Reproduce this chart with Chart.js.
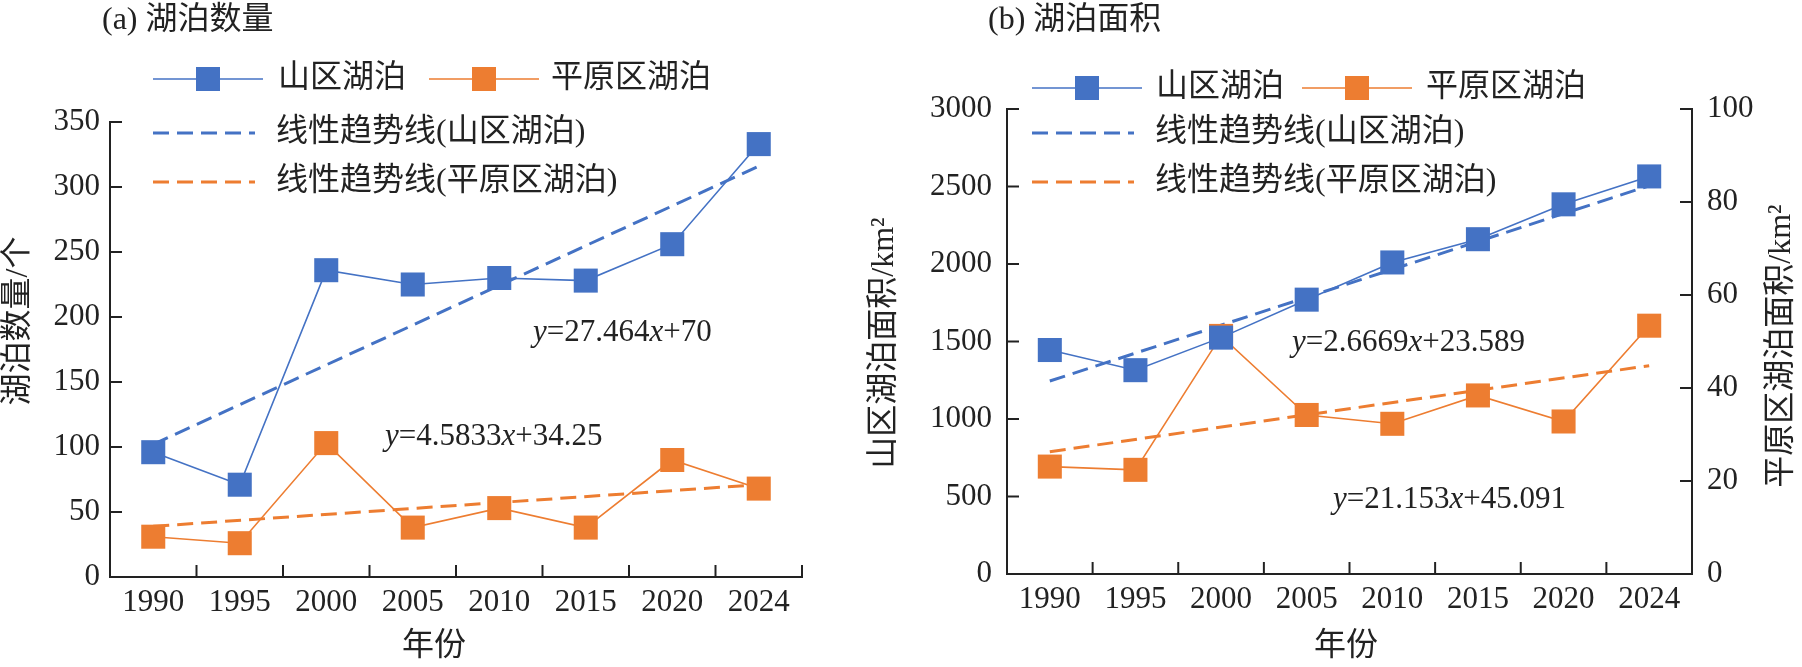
<!DOCTYPE html>
<html>
<head>
<meta charset="utf-8">
<script src="https://cdn.jsdelivr.net/npm/chart.js@4/dist/chart.umd.min.js"></script>
<style>
html, body { margin: 0; padding: 0; background: #fff; }
#wrap { position: relative; width: 1802px; height: 667px; overflow: hidden; }
.box { position: absolute; top: 0; height: 667px; }
#boxA { left: 0; width: 850px; }
#boxB { left: 850px; width: 952px; }
</style>
</head>
<body>
<div id="wrap">
  <div class="box" id="boxA"><canvas id="chartA"></canvas></div>
  <div class="box" id="boxB"><canvas id="chartB"></canvas></div>
</div>
<script>
// ==============================
// DATOS
// ==============================
const years = ["1990", "1995", "2000", "2005", "2010", "2015", "2020", "2024"];

// (a) 湖泊数量 (个)
const countMountain = [96, 71, 236, 225, 230, 228, 256, 333];
const countPlain = [31, 26, 103, 38, 53, 38, 90, 68];
// trend lines: only the two ends
const countMountainTrend = [102, null, null, null, null, null, null, 316];
const countPlainTrend = [39, null, null, null, null, null, null, 71];

// (b) 湖泊面积 (km²)
const areaMountain = [1445, 1315, 1525, 1770, 2010, 2160, 2385, 2565];
const areaPlain = [23.1, 22.4, 51.2, 34.2, 32.3, 38.4, 32.8, 53.4];
const areaMountainTrend = [1245, null, null, null, null, null, null, 2505];
const areaPlainTrend = [26.3, null, null, null, null, null, null, 44.8];

const seriesNames = ["山区湖泊", "平原区湖泊", "线性趋势线(山区湖泊)", "线性趋势线(平原区湖泊)"];

const BLUE = "#4472C4";
const ORANGE = "#ED7D31";
const INK = "#222";
const FONT = '"Times New Roman", "Liberation Serif", "DejaVu Serif", serif, "Noto Sans CJK SC"';

// ==============================
// PLUGIN: ticks hacia dentro, leyenda, textos
// ==============================
function drawParts(ctx, parts, x, y, size) {
    let cx = x;
    parts.forEach(([t, it]) => {
        ctx.font = (it ? "italic " : "") + size + "px " + FONT;
        ctx.fillText(t, cx, y);
        cx += ctx.measureText(t).width;
    });
}

const decor = {
    id: "decor",
    afterDraw(chart, args, opts) {
        const ctx = chart.ctx;
        const area = chart.chartArea;
        ctx.save();
        ctx.strokeStyle = INK;
        ctx.lineWidth = 2;
        // inward tick marks
        (opts.yTicks || []).forEach(({ id, dir }) => {
            const s = chart.scales[id];
            const x0 = dir > 0 ? area.left : area.right;
            s.ticks.forEach((t, i) => {
                const y = s.getPixelForTick(i);
                ctx.beginPath();
                ctx.moveTo(x0, y);
                ctx.lineTo(x0 + dir * 12, y);
                ctx.stroke();
            });
        });
        const xs = chart.scales.x;
        for (let k = 1; k <= years.length; k++) {
            const x = xs.getPixelForValue(k - 0.5);
            ctx.beginPath();
            ctx.moveTo(x, area.bottom);
            ctx.lineTo(x, area.bottom - 12);
            ctx.stroke();
        }

        // legend
        ctx.fillStyle = INK;
        ctx.textBaseline = "middle";
        ctx.textAlign = "left";
        (opts.legend || []).forEach(item => {
            const ds = chart.data.datasets[item.ds];
            ctx.save();
            ctx.strokeStyle = ds.borderColor;
            ctx.lineWidth = ds.borderWidth;
            ctx.setLineDash(ds.borderDash || []);
            ctx.beginPath();
            ctx.moveTo(item.x, item.y);
            ctx.lineTo(item.x + item.w, item.y);
            ctx.stroke();
            ctx.restore();
            if (ds.pointRadius > 0) {
                Chart.helpers.drawPoint(ctx, {
                    pointStyle: "rect", radius: ds.pointRadius, borderWidth: 0, rotation: 0
                }, item.x + item.w / 2, item.y);
                ctx.fillStyle = ds.pointBackgroundColor;
                ctx.fill();
            }
            ctx.fillStyle = INK;
            ctx.font = "32px " + FONT;
            ctx.fillText(ds.label, item.tx, item.y);
        });

        // free texts
        (opts.texts || []).forEach(t => {
            ctx.save();
            ctx.fillStyle = INK;
            ctx.textBaseline = "middle";
            ctx.font = t.size + "px " + FONT;
            if (t.rotate) {
                ctx.translate(t.x, t.y);
                ctx.rotate(-Math.PI / 2);
                ctx.textAlign = "center";
                ctx.fillText(t.text, 0, 0);
            } else if (t.align === "center") {
                ctx.textAlign = "center";
                ctx.fillText(t.text, t.x, t.y);
            } else if (t.parts) {
                ctx.textAlign = "left";
                drawParts(ctx, t.parts, t.x, t.y, t.size);
            } else {
                ctx.textAlign = "left";
                ctx.fillText(t.text, t.x, t.y);
            }
            ctx.restore();
        });
        ctx.restore();
    }
};

// ==============================
// CONFIG COMÚN
// ==============================
function seriesSet(label, data, color, axis) {
    return {
        label: label, data: data, yAxisID: axis,
        borderColor: color, borderWidth: 1.6,
        pointStyle: "rect", pointRadius: 17, pointHoverRadius: 17,
        pointBackgroundColor: color, pointBorderColor: color, pointBorderWidth: 0,
        tension: 0, fill: false
    };
}

function trendSet(label, data, color, axis) {
    return {
        label: label, data: data, yAxisID: axis,
        borderColor: color, borderWidth: 3, borderDash: [16, 8],
        pointRadius: 0, pointHoverRadius: 0, spanGaps: true, fill: false
    };
}

function valueAxis(pos, max, step, width, pad) {
    return {
        type: "linear", position: pos, min: 0, max: max,
        grid: { display: false, drawTicks: false },
        border: { display: true, color: INK, width: 2 },
        ticks: {
            stepSize: step, padding: pad, color: INK,
            font: { family: FONT, size: 31 },
            callback: v => String(v)
        },
        afterFit: s => { s.width = width; }
    };
}

function catAxis(height) {
    return {
        type: "category", offset: true,
        grid: { display: false, drawTicks: false },
        border: { display: true, color: INK, width: 2 },
        ticks: { padding: 7, color: INK, font: { family: FONT, size: 31 }, maxRotation: 0, autoSkip: false },
        afterFit: s => { s.height = height; }
    };
}

Chart.defaults.animation = false;
Chart.defaults.font.family = FONT;

// ==============================
// (a) 湖泊数量
// ==============================
new Chart(document.getElementById("chartA"), {
    type: "line",
    data: {
        labels: years,
        datasets: [
            seriesSet(seriesNames[0], countMountain, BLUE, "y"),
            seriesSet(seriesNames[1], countPlain, ORANGE, "y"),
            trendSet(seriesNames[2], countMountainTrend, BLUE, "y"),
            trendSet(seriesNames[3], countPlainTrend, ORANGE, "y")
        ]
    },
    options: {
        responsive: true, maintainAspectRatio: false,
        layout: { padding: { top: 122, right: 48, left: 0, bottom: 0 } },
        scales: {
            x: catAxis(90),
            y: valueAxis("left", 350, 50, 110, 10)
        },
        plugins: {
            legend: { display: false }, tooltip: { enabled: false },
            decor: {
                yTicks: [{ id: "y", dir: 1 }],
                legend: [
                    { ds: 0, x: 153, y: 79, w: 110, tx: 278 },
                    { ds: 1, x: 429, y: 79, w: 110, tx: 551 },
                    { ds: 2, x: 153, y: 133, w: 102, tx: 276 },
                    { ds: 3, x: 153, y: 182, w: 102, tx: 276 }
                ],
                texts: [
                    { text: "(a) 湖泊数量", x: 102, y: 21, size: 32 },
                    { text: "湖泊数量/个", x: 19, y: 321, size: 32, rotate: true },
                    { text: "年份", x: 434, y: 647, size: 32, align: "center" },
                    { parts: [["y", true], ["=27.464", false], ["x", true], ["+70", false]], x: 533, y: 333, size: 31 },
                    { parts: [["y", true], ["=4.5833", false], ["x", true], ["+34.25", false]], x: 385, y: 437, size: 31 }
                ]
            }
        }
    },
    plugins: [decor]
});

// ==============================
// (b) 湖泊面积
// ==============================
new Chart(document.getElementById("chartB"), {
    type: "line",
    data: {
        labels: years,
        datasets: [
            seriesSet(seriesNames[0], areaMountain, BLUE, "y"),
            seriesSet(seriesNames[1], areaPlain, ORANGE, "y1"),
            trendSet(seriesNames[2], areaMountainTrend, BLUE, "y"),
            trendSet(seriesNames[3], areaPlainTrend, ORANGE, "y1")
        ]
    },
    options: {
        responsive: true, maintainAspectRatio: false,
        layout: { padding: { top: 109, right: 0, left: 0, bottom: 0 } },
        scales: {
            x: catAxis(93),
            y: valueAxis("left", 3000, 500, 157, 15),
            y1: valueAxis("right", 100, 20, 110, 15)
        },
        plugins: {
            legend: { display: false }, tooltip: { enabled: false },
            decor: {
                yTicks: [{ id: "y", dir: 1 }, { id: "y1", dir: -1 }],
                legend: [
                    { ds: 0, x: 182, y: 88, w: 110, tx: 306 },
                    { ds: 1, x: 452, y: 88, w: 110, tx: 576 },
                    { ds: 2, x: 182, y: 133, w: 102, tx: 305 },
                    { ds: 3, x: 182, y: 182, w: 102, tx: 305 }
                ],
                texts: [
                    { text: "(b) 湖泊面积", x: 138, y: 21, size: 32 },
                    { text: "山区湖泊面积/km²", x: 35, y: 343, size: 32, rotate: true },
                    { text: "平原区湖泊面积/km²", x: 932, y: 346, size: 32, rotate: true },
                    { text: "年份", x: 496, y: 647, size: 32, align: "center" },
                    { parts: [["y", true], ["=2.6669", false], ["x", true], ["+23.589", false]], x: 442, y: 343, size: 31 },
                    { parts: [["y", true], ["=21.153", false], ["x", true], ["+45.091", false]], x: 483, y: 500, size: 31 }
                ]
            }
        }
    },
    plugins: [decor]
});
</script>
</body>
</html>
